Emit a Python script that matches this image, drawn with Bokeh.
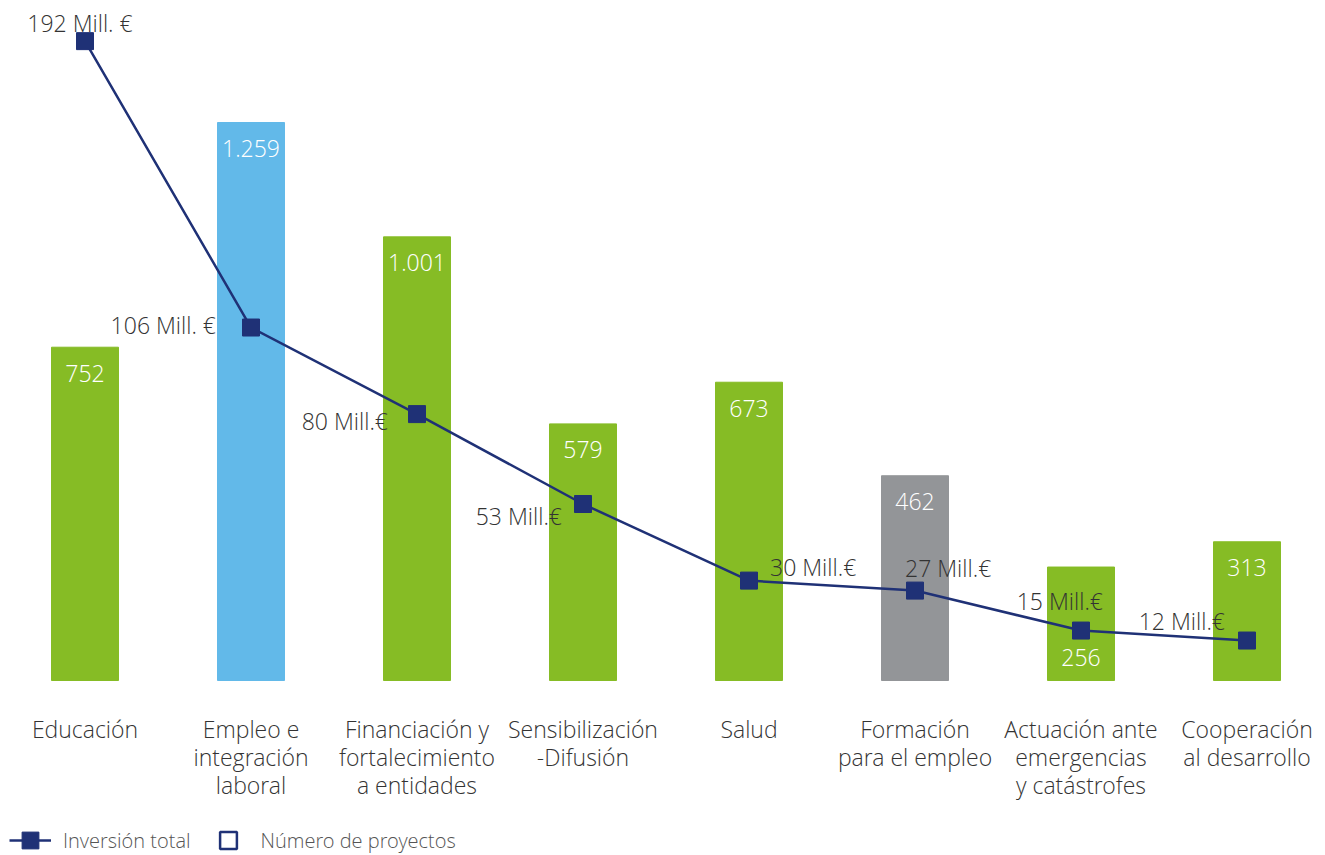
from bokeh.plotting import figure
from bokeh.models import ColumnDataSource, Range1d, Legend, LegendItem
from bokeh.core.properties import value
from bokeh.embed import file_html
from bokeh.resources import INLINE

categories = ["Educación", "Empleo e\nintegración\nlaboral", "Financiación y\nfortalecimiento\na entidades",
              "Sensibilización\n-Difusión", "Salud", "Formación\npara el empleo",
              "Actuación ante\nemergencias\ny catástrofes", "Cooperación\nal desarrollo"]
proyectos = [752, 1259, 1001, 579, 673, 462, 256, 313]
proyectos_txt = ["752", "1.259", "1.001", "579", "673", "462", "256", "313"]
inversion = [192, 106, 80, 53, 30, 27, 15, 12]
inversion_txt = ["192 Mill. €", "106 Mill. €", "80 Mill.€", "53 Mill.€", "30 Mill.€", "27 Mill.€", "15 Mill.€", "12 Mill.€"]
bar_colors = ["#86bc25", "#62b9e9", "#86bc25", "#86bc25", "#86bc25", "#939598", "#86bc25", "#86bc25"]

# label placement styling (screen pixels)
bar_lbl_dy = [26, 26, 26, 26, 26, 26, 90, 26]
lbl_align = ["center", "right", "right", "right", "left", "left", "right", "right"]
lbl_dx = [-5, -35, -29, -21, 21, -10, 22, -22]
lbl_dy = [-18, -3, 7, 12, -14, -23, -30, -20]

FONT = "Open Sans Light"
W, H = 1322, 854
x0_px, step_px = 84.5, 166
base_px = 680
bar_scale = 558 / 1259
line_scale = 3.33

xs = list(range(len(categories)))
p = figure(width=W, height=H, output_backend="svg", toolbar_location=None,
           x_range=Range1d(-x0_px / step_px, (W - x0_px) / step_px),
           y_range=Range1d(-(H - base_px) / bar_scale, base_px / bar_scale),
           min_border=0, outline_line_color=None)
p.extra_y_ranges = {"inv": Range1d(-(H - base_px) / line_scale, base_px / line_scale)}
p.xaxis.visible = False
p.yaxis.visible = False
p.grid.visible = False
p.background_fill_color = None
p.border_fill_color = None

src = ColumnDataSource(dict(x=xs, top=proyectos, ptxt=proyectos_txt, color=bar_colors,
                            cat=categories, zero=[0] * len(xs), dy=bar_lbl_dy))
p.vbar(x="x", top="top", width=67 / step_px, color="color", source=src)
p.text(x="x", y="top", text="ptxt", source=src, text_color="white", text_align="center",
       text_baseline="middle", y_offset="dy", text_font=value(FONT), text_font_size="23px")
p.text(x="x", y="zero", text="cat", source=src, text_color="#333333", text_align="center",
       text_baseline="top", y_offset=32, text_font=value(FONT), text_font_size="23px",
       text_line_height=0.886)

lsrc = ColumnDataSource(dict(x=xs, y=inversion, t=inversion_txt, align=lbl_align, dx=lbl_dx, dy=lbl_dy))
navy = "#1f3176"
lr = p.line(x="x", y="y", source=lsrc, y_range_name="inv", line_color=navy, line_width=2.5)
sr = p.scatter(x="x", y="y", source=lsrc, y_range_name="inv", marker="square", size=17,
               fill_color=navy, line_color=navy)
p.text(x="x", y="y", text="t", source=lsrc, y_range_name="inv", text_align="align",
       text_baseline="middle", x_offset="dx", y_offset="dy", text_color="#333333",
       text_font=value(FONT), text_font_size="23px")

proxy = ColumnDataSource(dict(x=[-100], y=[-100000]))
er = p.scatter(x="x", y="y", source=proxy, marker="square", size=15, fill_color=None,
               line_color=navy, line_width=2.5)

legend = Legend(items=[LegendItem(label="Inversión total", renderers=[lr, sr]),
                       LegendItem(label="Número de proyectos", renderers=[er])],
                orientation="horizontal", location=(9, -7), padding=0, margin=0,
                border_line_color=None, background_fill_alpha=0,
                label_text_font=FONT, label_text_font_size="20px", label_text_color="#555555",
                glyph_width=42, glyph_height=42, label_standoff=12, spacing=16)
p.add_layout(legend)

open("out.html", "w").write(file_html(p, INLINE))
